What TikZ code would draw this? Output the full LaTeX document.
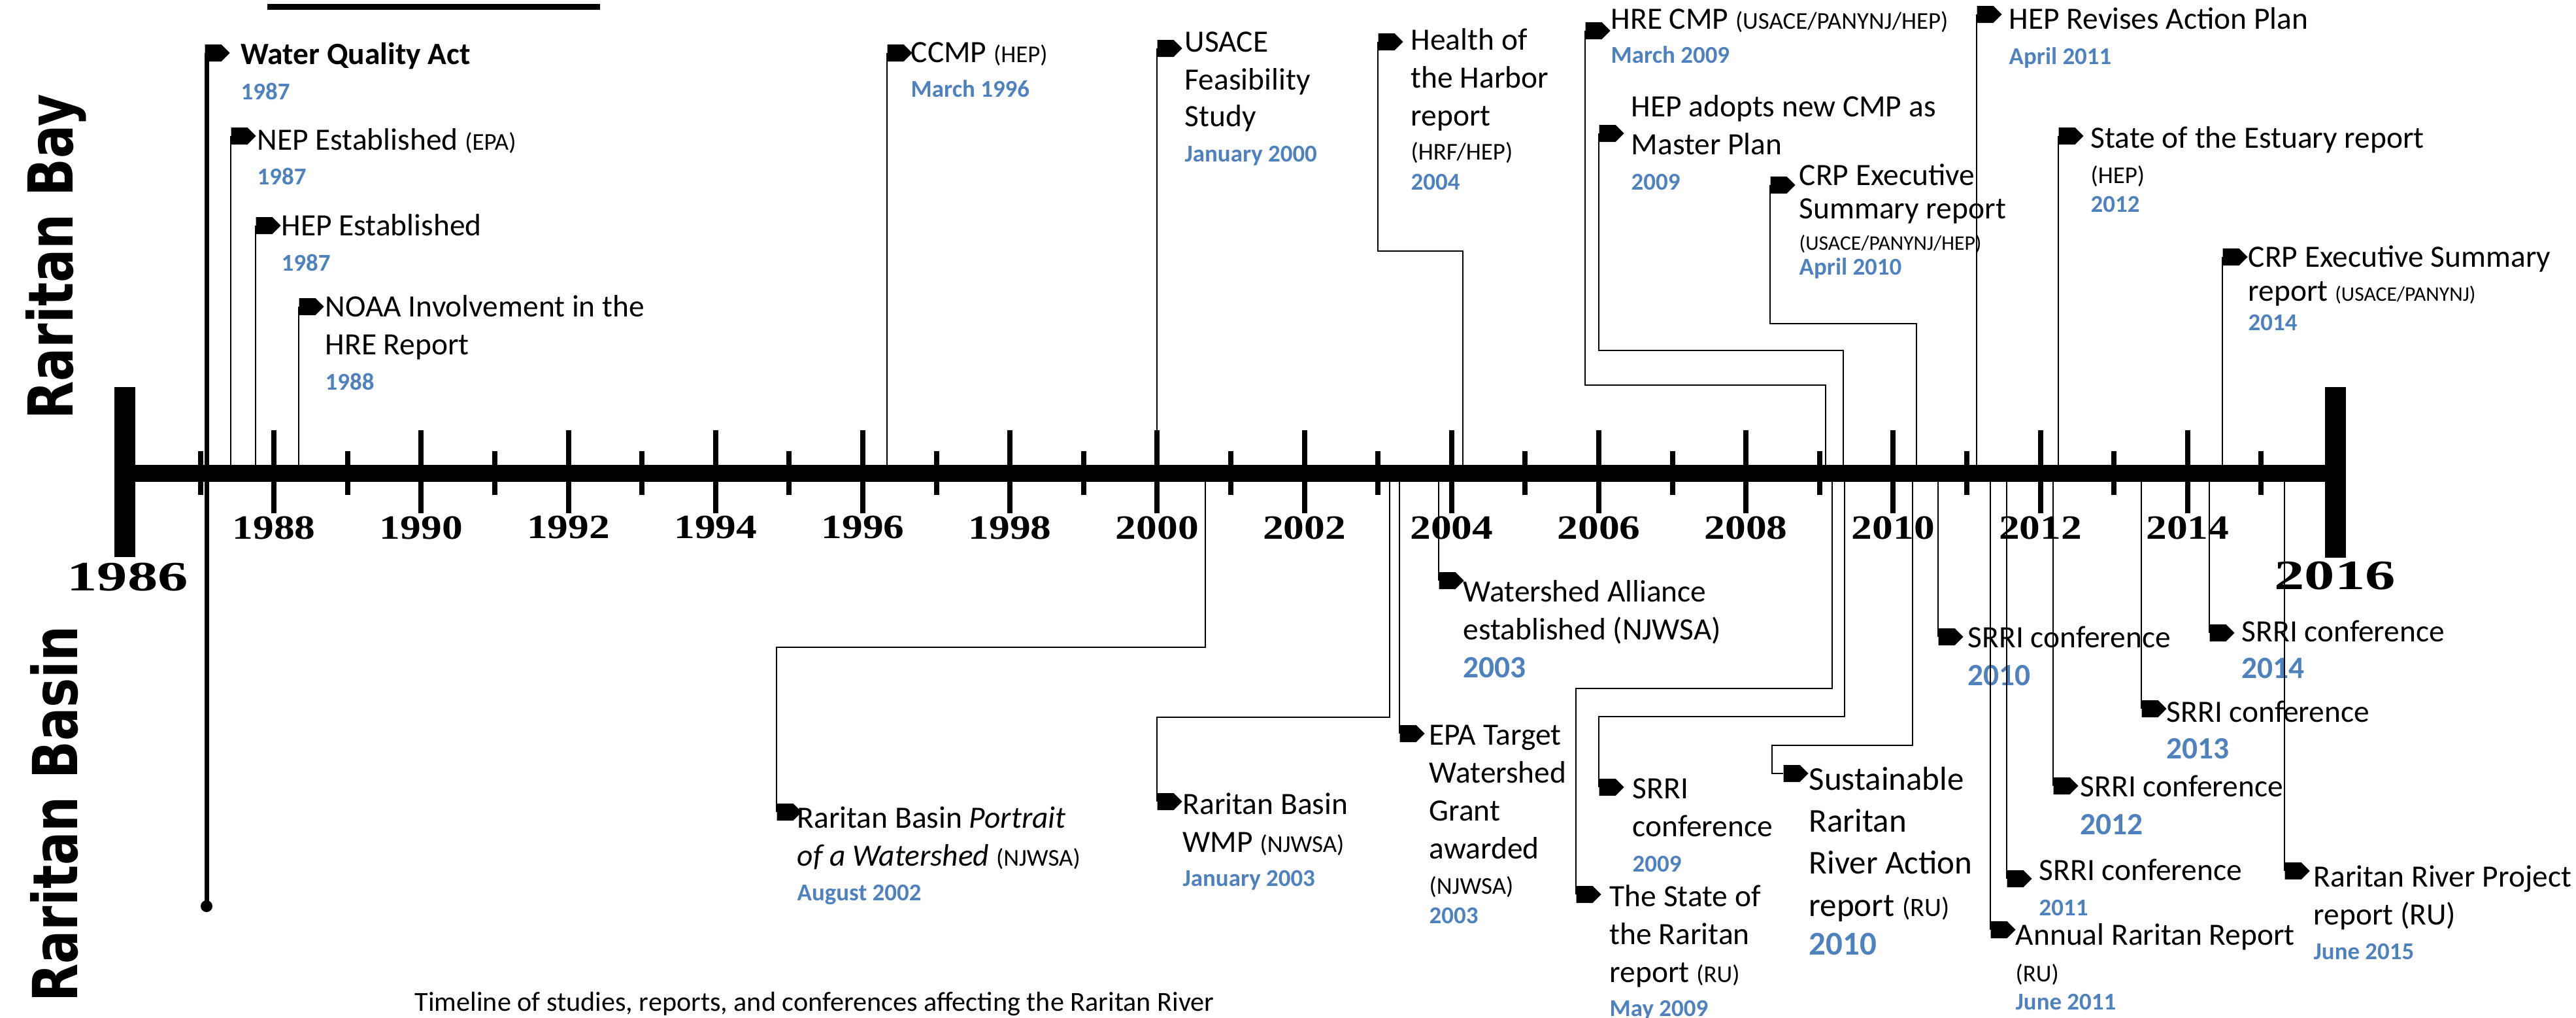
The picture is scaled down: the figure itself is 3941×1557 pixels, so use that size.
\documentclass[tikz,border=0pt]{standalone}
\usepackage{fontspec}
\setmainfont{Carlito}
\newfontfamily\axisfont[FakeStretch=1.22]{Liberation Serif}
\newfontfamily\endfont[FakeStretch=1.45]{Liberation Serif}
\newfontfamily\sidefont[FakeStretch=0.8]{DejaVu Sans}
\usetikzlibrary{shapes.symbols}
\definecolor{yrblue}{HTML}{4F81BD}
\newcommand{\when}[1]{{\fontsize{10.5}{12}\selectfont\bfseries\color{yrblue}#1}}
\newcommand{\whenbig}[1]{{\bfseries\color{yrblue}#1}}
\newcommand{\who}[1]{{\fontsize{10.5}{12}\selectfont #1}}
\newcommand{\whosm}[1]{{\fontsize{9}{11}\selectfont #1}}
\newcommand{\whomid}[1]{{\fontsize{11.5}{13}\selectfont #1}}
\tikzset{
  flag/.style={shape=signal, signal to=east, signal pointer angle=90, fill=black, inner sep=0pt,
    minimum width=3.8mm, minimum height=2.6mm, anchor=west},
  conn/.style={line width=0.22mm},
  evt/.style={anchor=north west, inner sep=0pt, align=left, font=\fontsize{13.5}{16.5}\selectfont},
  evtbig/.style={evt, font=\fontsize{14.5}{18.2}\selectfont},
  majtick/.style={line width=0.8mm},
  mintick/.style={line width=0.8mm},
  axislbl/.style={inner sep=0pt, font=\axisfont\bfseries\fontsize{14.8}{16}\selectfont},
  endlbl/.style={inner sep=0pt, font=\endfont\bfseries\fontsize{18.2}{20}\selectfont},
  sidelbl/.style={inner sep=0pt, rotate=90, font=\sidefont\bfseries\fontsize{27}{30}\selectfont}
}
\begin{document}
\begin{tikzpicture}[x=0.1mm,y=-0.1mm]
    \useasboundingbox (0,0) rectangle (3941,1557);

    \draw[line width=0.9mm] (409,10.5) -- (918,10.5);

    \node[sidelbl] (bay) at (86,393) {Raritan Bay};
    \node[sidelbl] (basin) at (83,1245) {Raritan Basin};

    % axis
    \coordinate (axisL) at (191,724);
    \coordinate (axisR) at (3573,724);
    \foreach \n in {1,3,...,29}
        \draw[mintick] ({194+\n*112.6},690) -- ({194+\n*112.6},757);
    \foreach \n in {2,4,...,28}{
        \draw[majtick] ({194+\n*112.6},658) -- ({194+\n*112.6},785);
        \pgfmathtruncatemacro\yy{1986+\n}
        \node[axislbl] (yl\n) at ({194+\n*112.6},807) {\yy};
    }
    \draw[line width=2.6mm] (axisL) -- (axisR);
    \draw[line width=3.2mm] (191,592) -- (191,852);
    \draw[line width=3.2mm] (3573,592) -- (3573,853);
    \node[endlbl] (y1986) at (195,883) {1986};
    \node[endlbl] (y2016) at (3572,881) {2016};

    % Raritan Bay
    \node[flag] (fWQA) at (313,81) {};
    \node[evt] (tWQA) at (368,64) {\textbf{Water Quality Act}\\[-1pt]\when{1987}};
    \node[flag] (fNEP) at (353,208) {};
    \node[evt] (tNEP) at (393,196) {NEP Established \who{(EPA)}\\[-1.6pt]\when{1987}};
    \node[flag] (fHEP) at (391,345) {};
    \node[evt] (tHEP) at (430,327) {HEP Established\\[-1.3pt]\when{1987}};
    \node[flag] (fNOAA) at (457,469) {};
    \node[evt] (tNOAA) at (497,451) {NOAA Involvement in the\\HRE Report\\[-1.3pt]\when{1988}};
    \node[flag] (fCCMP) at (1357,81) {};
    \node[evt] (tCCMP) at (1393,64) {CCMP \who{(HEP)}\\[-1.3pt]\when{March 1996}};
    \node[flag] (fUSACE) at (1770,74) {};
    \node[evt] (tUSACE) at (1812,48) {USACE\\Feasibility\\[-0.6pt]Study\\[-1pt]\when{January 2000}};
    \node[flag] (fHoH) at (2108,64) {};
    \node[evt] (tHoH) at (2158,43) {Health of\\the Harbor\\report\\[-1.8pt]\who{(HRF/HEP)}\\[-3.4pt]\when{2004}};
    \node[flag] (fHRE) at (2425,47) {};
    \node[evt] (tHRE) at (2464,13) {HRE CMP \who{(USACE/PANYNJ/HEP)}\\[-1.8pt]\when{March 2009}};
    \node[flag] (fHEPa) at (2446,204) {};
    \node[evt] (tHEPa) at (2495,145) {HEP adopts new CMP as\\Master Plan\\[-1.3pt]\when{2009}};
    \node[flag] (fCRP) at (2708,283) {};
    \node[evt] (tCRP) at (2752,250) {CRP Executive\\[-2pt]Summary report\\[-2.8pt]\whosm{(USACE/PANYNJ/HEP)}\\[-5.7pt]\when{April 2010}};
    \node[flag] (fHEPr) at (3024,22) {};
    \node[evt] (tHEPr) at (3073,11) {HEP Revises Action Plan\\[-1.3pt]\when{April 2011}};
    \node[flag] (fSoE) at (3149,208) {};
    \node[evt] (tSoE) at (3198,193) {State of the Estuary report\\[-1.3pt]\who{(HEP)}\\[-4pt]\when{2012}};
    \node[flag] (fCRPb) at (3400,393) {};
    \node[evt] (tCRPb) at (3439,375) {CRP Executive Summary\\[-1.7pt]report \whosm{(USACE/PANYNJ)}\\[-3.6pt]\when{2014}};

    % Raritan Basin
    \node[flag] (fPor) at (1188,1242) {};
    \node[evt] (tPor) at (1219,1233) {Raritan Basin \textit{Portrait}\\\textit{of a Watershed} \who{(NJWSA)}\\[-1.3pt]\when{August 2002}};
    \node[flag] (fWMP) at (1770,1226) {};
    \node[evt] (tWMP) at (1809,1212) {Raritan Basin\\WMP \who{(NJWSA)}\\[-1.6pt]\when{January 2003}};
    \node[flag] (fEPA) at (2141,1122) {};
    \node[evt] (tEPA) at (2186,1108) {EPA Target\\Watershed\\Grant\\awarded\\[-1pt]\who{(NJWSA)}\\[-3.7pt]\when{2003}};
    \node[flag] (fWSA) at (2201,888) {};
    \node[evt] (tWSA) at (2238,887) {Watershed Alliance\\established (NJWSA)\\\whenbig{2003}};
    \node[flag] (fS09) at (2446,1204) {};
    \node[evt] (tS09) at (2497,1190) {SRRI\\conference\\[-1pt]\when{2009}};
    \node[flag] (fSoR) at (2411,1368) {};
    \node[evt] (tSoR) at (2462,1353) {The State of\\the Raritan\\report \who{(RU)}\\[-1.8pt]\when{May 2009}};
    \node[flag] (fSus) at (2728,1183) {};
    \node[evtbig] (tSus) at (2767,1172) {Sustainable\\Raritan\\River Action\\[0.5pt]report \whomid{(RU)}\\[-1.6pt]\whenbig{2010}};
    \node[flag] (fS10) at (2965,974) {};
    \node[evt] (tS10) at (3010,957) {SRRI conference\\\whenbig{2010}};
    \node[flag] (fAnn) at (3045,1422) {};
    \node[evt] (tAnn) at (3083,1412) {Annual Raritan Report\\[-0.7pt]\who{(RU)}\\[-4.3pt]\when{June 2011}};
    \node[flag] (fS11) at (3070,1344) {};
    \node[evt] (tS11) at (3119,1313) {SRRI conference\\[-1pt]\when{2011}};
    \node[flag] (fS12) at (3141,1202) {};
    \node[evt] (tS12) at (3182,1185) {SRRI conference\\\whenbig{2012}};
    \node[flag] (fS13) at (3276,1084) {};
    \node[evt] (tS13) at (3314,1071) {SRRI conference\\[-0.6pt]\whenbig{2013}};
    \node[flag] (fS14) at (3380,968) {};
    \node[evt] (tS14) at (3429,948) {SRRI conference\\[-0.6pt]\whenbig{2014}};
    \node[flag] (fRRP) at (3495,1332) {};
    \node[evt] (tRRP) at (3539,1323) {Raritan River Project\\report (RU)\\[-1.3pt]\when{June 2015}};

    % connectors
    \coordinate (dotWQA) at (316,1386);
    \draw[line width=0.7mm] (fWQA.west -| dotWQA) -- (dotWQA);
    \fill (dotWQA) circle[radius=0.9mm];
    \foreach \f in {fNEP,fHEP,fNOAA,fCCMP,fUSACE,fHEPr,fSoE,fCRPb,fEPA,fWSA,fS10,fAnn,fS11,fS12,fS13,fS14,fRRP}
        \draw[conn] (\f.west) -- (\f.west |- axisL);
    \coordinate (kHoH) at (2108,384);  \coordinate (aHoH) at (2238,724);
    \coordinate (kHRE) at (2425,589);  \coordinate (aHRE) at (2793,724);
    \coordinate (kHEPa) at (2446,536); \coordinate (aHEPa) at (2820,724);
    \coordinate (kCRP) at (2708,495);  \coordinate (aCRP) at (2932,724);
    \draw[conn] (fHoH.west) -- (kHoH) -| (aHoH);
    \draw[conn] (fHRE.west) -- (kHRE) -| (aHRE);
    \draw[conn] (fHEPa.west) -- (kHEPa) -| (aHEPa);
    \draw[conn] (fCRP.west) -- (kCRP) -| (aCRP);
    \coordinate (aPor) at (1844,724);  \coordinate (kPor) at (1844,990);
    \coordinate (aWMP) at (2126,724);  \coordinate (kWMP) at (2126,1097);
    \coordinate (aS09) at (2822,724);  \coordinate (kS09) at (2822,1096);
    \coordinate (aSoR) at (2803,724);  \coordinate (kSoR) at (2803,1053);
    \coordinate (aSus) at (2926,724);  \coordinate (kSus) at (2926,1140);
    \coordinate (jSus) at (2711,1183);
    \draw[conn] (aPor) -- (kPor) -| (fPor.west);
    \draw[conn] (aWMP) -- (kWMP) -| (fWMP.west);
    \draw[conn] (aS09) -- (kS09) -| (fS09.west);
    \draw[conn] (aSoR) -- (kSoR) -| (fSoR.west);
    \draw[conn] (aSus) -- (kSus) -| (jSus) -- (fSus.west);

    \node[anchor=base west, inner sep=0pt, font=\fontsize{12}{14}\selectfont] (caption) at (634,1546)
        {Timeline of studies, reports, and conferences affecting the Raritan River};
\end{tikzpicture}
\end{document}
